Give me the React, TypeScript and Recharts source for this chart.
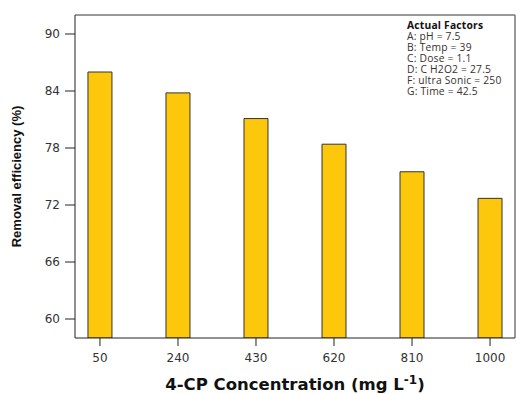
import { BarChart, Bar, XAxis, YAxis, ReferenceLine } from "recharts";

const concentrations = ["50", "240", "430", "620", "810", "1000"];
const removal = [86.0, 83.8, 81.1, 78.4, 75.5, 72.7];
const yTicks = [60, 66, 72, 78, 84, 90];
const factors = [
  "A: pH = 7.5",
  "B: Temp = 39",
  "C: Dose = 1.1",
  "D: C H2O2 = 27.5",
  "F: ultra Sonic = 250",
  "G: Time = 42.5",
];

const data = concentrations.map((c, i) => ({ idx: i, label: c, value: removal[i] }));

export default function App() {
  return (
    <div style={{ position: "absolute", left: 0, top: 0, width: 516, height: 394, background: "#fff" }}>
      <BarChart
        width={516}
        height={394}
        data={data}
        margin={{ top: 15, right: 1, bottom: 30, left: 0 }}
      >
        <XAxis
          dataKey="idx"
          type="number"
          domain={[-0.32, 5.32]}
          ticks={[0, 1, 2, 3, 4, 5]}
          tickFormatter={(v: number) => concentrations[v]}
          height={26}
          tickSize={8}
          tickMargin={7}
          stroke="#222"
          tick={{ fill: "#333", fontSize: 12, fontFamily: "DejaVu Sans" }}
          allowDataOverflow
        />
        <YAxis
          domain={[58, 92]}
          ticks={yTicks}
          width={75}
          tickSize={10}
          tickMargin={5}
          stroke="#222"
          tick={{ fill: "#333", fontSize: 12, fontFamily: "DejaVu Sans" }}
          allowDataOverflow
          label={{
            value: "Removal efficiency (%)",
            angle: -90,
            position: "insideLeft",
            offset: 16,
            style: { fontFamily: "Liberation Sans", fontWeight: "bold", fontSize: 13, fill: "#111", textAnchor: "middle" },
          }}
        />
        <ReferenceLine y={92} stroke="#777" strokeWidth={1.5} ifOverflow="visible" />
        <ReferenceLine x={5.32} stroke="#777" strokeWidth={1.5} ifOverflow="visible" />
        <Bar dataKey="value" barSize={24} fill="#FDC70C" stroke="#333" strokeWidth={1} isAnimationActive={false} />
      </BarChart>
      <div
        style={{
          position: "absolute",
          left: 407,
          top: 20,
          fontFamily: "Open Sans",
          fontSize: 10.3,
          lineHeight: "11px",
          color: "#3a3030",
          whiteSpace: "nowrap",
          letterSpacing: 0.2,
        }}
      >
        <div style={{ fontWeight: "bold", color: "#111" }}>Actual Factors</div>
        {factors.map((f) => (
          <div key={f}>{f}</div>
        ))}
      </div>
      <div
        style={{
          position: "absolute",
          left: 75,
          width: 440,
          top: 375,
          textAlign: "center",
          fontFamily: "DejaVu Sans",
          fontWeight: "bold",
          fontSize: 16.5,
          lineHeight: "20px",
          color: "#111",
        }}
      >
        4-CP Concentration (mg L<sup style={{ fontSize: 12, lineHeight: 0 }}>-1</sup>)
      </div>
    </div>
  );
}
